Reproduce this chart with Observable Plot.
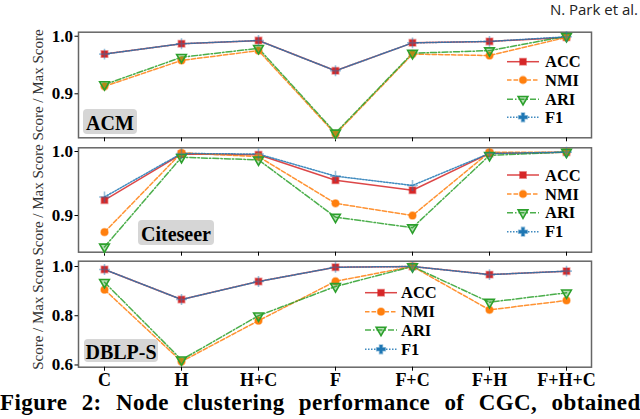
<!DOCTYPE html>
<html><head><meta charset="utf-8">
<script src="https://cdn.jsdelivr.net/npm/d3@7"></script>
<script src="https://cdn.jsdelivr.net/npm/@observablehq/plot@0.6"></script>
<style>
body{margin:0;background:#fff;}
#root{position:relative;width:640px;height:419px;overflow:hidden;background:#fff;}
.panel{position:absolute;left:0;}
#author{position:absolute;right:2px;top:0px;font-family:"Open Sans";font-size:15px;line-height:18px;color:#222;white-space:nowrap;}
#caption{position:absolute;left:0;top:390px;font-family:"Liberation Serif";font-weight:bold;font-size:23px;letter-spacing:0.45px;word-spacing:8px;white-space:nowrap;color:#000;}
</style></head><body>
<div id="root"><div id="author">N. Park et al.</div></div>
<script>
const categories = ["C","H","H+C","F","F+C","F+H","F+H+C"];
const metrics = ["ACC","NMI","ARI","F1"];
const datasets = ["ACM","Citeseer","DBLP-S"];
const acmACC = [0.969,0.987,0.9925,0.940,0.9885,0.991,0.998];
const acmNMI = [0.913,0.958,0.975,0.830,0.969,0.9665,0.998];
const acmARI = [0.916,0.9635,0.979,0.832,0.9705,0.975,1.0];
const acmF1  = [0.969,0.987,0.9925,0.940,0.9885,0.991,0.999];
const citeACC = [0.924,0.996,0.995,0.955,0.9395,0.997,0.999];
const citeNMI = [0.874,0.998,0.992,0.919,0.900,0.999,0.999];
const citeARI = [0.851,0.991,0.987,0.8975,0.881,0.994,0.999];
const citeF1  = [0.929,0.997,0.996,0.9615,0.947,0.997,0.999];
const dblpACC = [0.988,0.866,0.939,0.997,1.0,0.967,0.981];
const dblpNMI = [0.906,0.614,0.780,0.940,1.0,0.824,0.862];
const dblpARI = [0.936,0.621,0.800,0.919,1.0,0.855,0.893];
const dblpF1  = [0.988,0.866,0.939,0.997,1.0,0.967,0.981];
const yTickValues = [[0.9,1.0],[0.9,1.0],[0.6,0.8,1.0]];
const yLabel = "Score / Max Score";
const captionText = "Figure 2: Node clustering performance of CGC, obtained";

const FONT = "Liberation Serif";
const series = [[acmACC,acmNMI,acmARI,acmF1],[citeACC,citeNMI,citeARI,citeF1],[dblpACC,dblpNMI,dblpARI,dblpF1]];
const style = {
  ACC:{color:"#d62728", dash:null, symbol:"square", rotate:0, fo:1, sym:d3.symbolSquare},
  NMI:{color:"#ff7f0e", dash:"4.5,2", symbol:"circle", rotate:0, fo:1, sym:d3.symbolCircle},
  ARI:{color:"#2ca02c", dash:"6,2,1.5,2", symbol:"triangle", rotate:180, fo:0.35, sym:d3.symbolTriangle},
  F1:{color:"#1f77b4", dash:"1.5,1.5", symbol:"plus", rotate:0, fo:1, sym:d3.symbolCross}
};
const layout = [
  {top:20, height:125, mt:11.7, mb:7.7, domain:[0.8236,1.007], leg:{x1:507,x2:539,tx:545,ys:[41.7,60,79.3,97.3]}, box:{x:83,y:89,w:54,h:25}},
  {top:145, height:112, mt:2.3, mb:5.3, domain:[0.8427,1.0058], leg:{x1:507,x2:539,tx:545,ys:[30,49,67.7,86.7]}, box:{x:138,y:75,w:76,h:25}},
  {top:257, height:135, mt:3.7, mb:25.3, domain:[0.591,1.0215], leg:{x1:365,x2:397,tx:401,ys:[35.7,54.7,73,92.3]}, box:{x:84,y:82,w:74,h:23}}
];
const r = 3.6;
const root = document.getElementById("root");

datasets.forEach((ds, p) => {
  const L = layout[p];
  const rows = [];
  metrics.forEach((m, k) => categories.forEach((c, i) => rows.push({metric:m, cat:c, value:series[p][k][i]})));
  const marks = [
    Plot.frame({stroke:"#666", strokeWidth:1.5}),
    Plot.axisY({ticks:yTickValues[p], tickFormat:".1f", tickSize:3.5, tickPadding:2, fontSize:17, fontWeight:"bold", fontFamily:FONT, label:null}),
    Plot.axisX({tickSize:4, tickPadding:2, fontSize:18, fontWeight:"bold", fontFamily:FONT, label:null, tickFormat: p === 2 ? (d => d) : (() => "")}),
    Plot.text([yLabel], {frameAnchor:"left", textAnchor:"middle", dx:-40, rotate:-90, fontSize:15, fontWeight:"normal", fontFamily:FONT, fill:"#333"})
  ];
  metrics.forEach(m => {
    const s = style[m];
    const d = rows.filter(d => d.metric === m);
    marks.push(Plot.line(d, {x:"cat", y:"value", stroke:s.color, strokeWidth:1.5, strokeOpacity:0.85, strokeDasharray:s.dash || undefined}));
  });
  metrics.forEach(m => {
    const s = style[m];
    const d = rows.filter(d => d.metric === m);
    marks.push(Plot.dot(d, {x:"cat", y:"value", symbol:s.symbol, rotate:s.rotate, r:r, fill:s.color, fillOpacity:s.fo, stroke:s.color, strokeOpacity:s.fo < 1 ? 1 : 0.45, strokeWidth:1.6}));
  });
  const svg = Plot.plot({
    width:640, height:L.height, marginLeft:78, marginRight:49, marginTop:L.mt, marginBottom:L.mb,
    x:{type:"point", domain:categories, padding:0.31},
    y:{domain:L.domain},
    style:{fontFamily:FONT, fontWeight:"bold", color:"#000", background:"transparent", overflow:"visible"},
    marks
  });
  const div = document.createElement("div");
  div.className = "panel";
  div.style.top = L.top + "px";
  div.appendChild(svg);
  root.appendChild(div);

  const g = d3.select(svg).append("g").attr("text-anchor", "start")
    .style("font-family", FONT).style("font-weight", "bold");
  // dataset label box
  g.append("rect").attr("x", L.box.x).attr("y", L.box.y).attr("width", L.box.w).attr("height", L.box.h)
    .attr("rx", 4).attr("fill", "#d6d6d6");
  g.append("text").attr("x", L.box.x + L.box.w/2).attr("y", L.box.y + L.box.h/2 + 1)
    .attr("text-anchor","middle").attr("dominant-baseline","central")
    .style("font-size", "20px").text(ds);
  // legend
  metrics.forEach((m, k) => {
    const s = style[m], y = L.leg.ys[k], cx = (L.leg.x1 + L.leg.x2)/2;
    g.append("line").attr("x1", L.leg.x1).attr("x2", L.leg.x2).attr("y1", y).attr("y2", y)
      .attr("stroke", s.color).attr("stroke-width", 1.5).attr("stroke-opacity", 0.85)
      .attr("stroke-dasharray", s.dash);
    g.append("path").attr("d", d3.symbol().type(s.sym).size(Math.PI*r*r)())
      .attr("transform", `translate(${cx},${y}) rotate(${s.rotate})`)
      .attr("fill", s.color).attr("fill-opacity", s.fo).attr("stroke", s.color)
      .attr("stroke-opacity", s.fo < 1 ? 1 : 0.45).attr("stroke-width", 1.6);
    g.append("text").attr("x", L.leg.tx).attr("y", y).attr("text-anchor","start").attr("dominant-baseline","central")
      .style("font-size", "16.5px").text(m);
  });
});

const cap = document.createElement("div");
cap.id = "caption";
cap.textContent = captionText;
root.appendChild(cap);
</script>
</body></html>
